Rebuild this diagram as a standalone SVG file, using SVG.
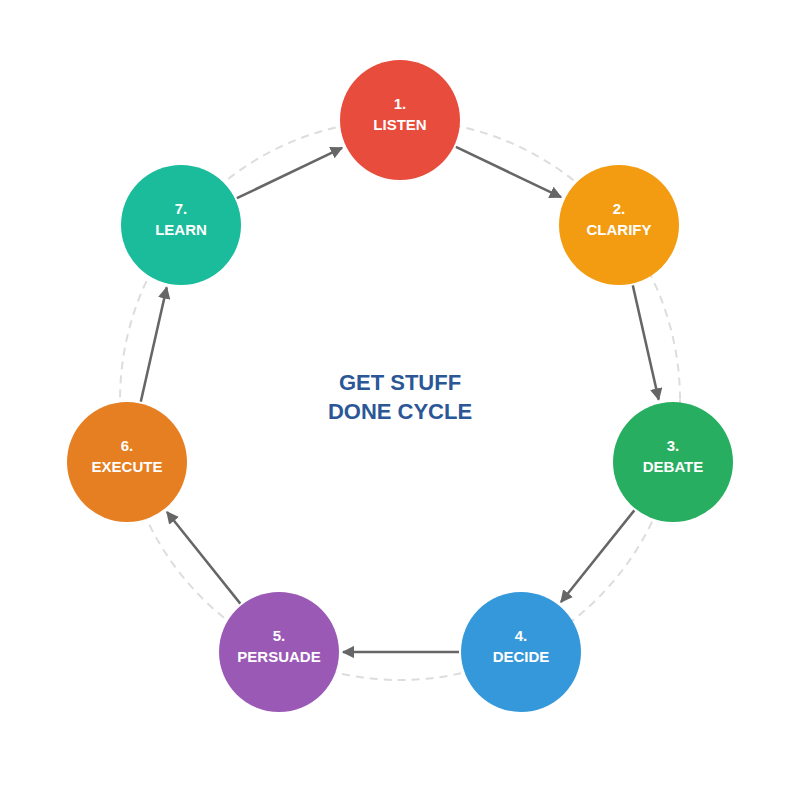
<svg xmlns="http://www.w3.org/2000/svg" width="800" height="800" viewBox="0 0 800 800">
<style>
.n text{font-family:"Liberation Sans",Arial,sans-serif;font-weight:bold;font-size:15px;fill:#fff;text-anchor:middle}
.c line{stroke:#666;stroke-width:2.5;marker-end:url(#a)}
.t{font-family:"Liberation Sans",Arial,sans-serif;font-weight:bold;font-size:22px;fill:#2B5797;text-anchor:middle}
</style>
<defs><marker id="a" viewBox="0 0 10 10" refX="9" refY="5" markerWidth="5" markerHeight="5" orient="auto" markerUnits="strokeWidth"><path d="M0,0L10,5L0,10z" fill="#666"/></marker></defs>
<rect width="800" height="800" fill="#fff"/>
<circle cx="400" cy="400" r="280" fill="none" stroke="#ddd" stroke-width="2" stroke-dasharray="8,6"/>
<g class="c">
<line x1="455.9" y1="146.8" x2="561" y2="197.2"/>
<line x1="632.8" y1="285.4" x2="658.7" y2="399.6"/>
<line x1="634.3" y1="510.4" x2="561" y2="602"/>
<line x1="459" y1="652" x2="343" y2="652"/>
<line x1="240.3" y1="603.6" x2="167" y2="512"/>
<line x1="140.8" y1="401.6" x2="166.7" y2="287.4"/>
<line x1="236.9" y1="198.2" x2="342" y2="147.8"/>
</g>
<g id="n1" class="n"><circle cx="400" cy="120" r="60" fill="#E74C3C"/><text x="400" y="109">1.</text><text x="400" y="130">LISTEN</text></g>
<g id="n2" class="n"><circle cx="619" cy="225" r="60" fill="#F39C12"/><text x="619" y="214">2.</text><text x="619" y="235">CLARIFY</text></g>
<g id="n3" class="n"><circle cx="673" cy="462" r="60" fill="#27AE60"/><text x="673" y="451">3.</text><text x="673" y="472">DEBATE</text></g>
<g id="n4" class="n"><circle cx="521" cy="652" r="60" fill="#3498DB"/><text x="521" y="641">4.</text><text x="521" y="662">DECIDE</text></g>
<g id="n5" class="n"><circle cx="279" cy="652" r="60" fill="#9B59B6"/><text x="279" y="641">5.</text><text x="279" y="662">PERSUADE</text></g>
<g id="n6" class="n"><circle cx="127" cy="462" r="60" fill="#E67E22"/><text x="127" y="451">6.</text><text x="127" y="472">EXECUTE</text></g>
<g id="n7" class="n"><circle cx="181" cy="225" r="60" fill="#1ABC9C"/><text x="181" y="214">7.</text><text x="181" y="235">LEARN</text></g>
<g id="title"><text class="t" x="400" y="390">GET STUFF</text><text class="t" x="400" y="419">DONE CYCLE</text></g>
</svg>
